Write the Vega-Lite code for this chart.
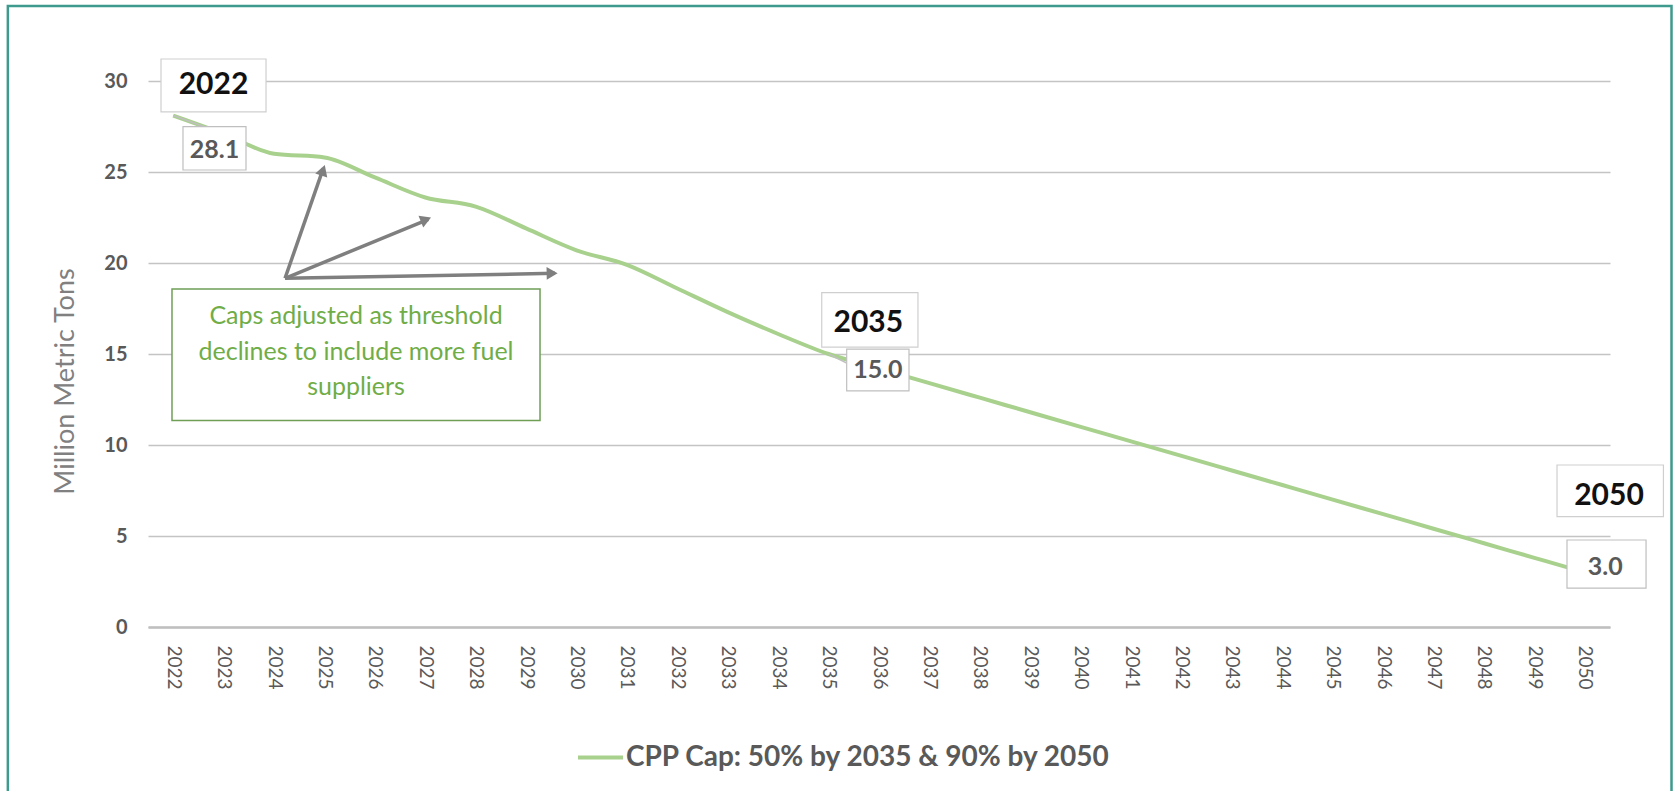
{
  "$schema": "https://vega.github.io/schema/vega-lite/v6.json",
  "width": 1462,
  "height": 546,
  "autosize": {"type": "none"},
  "padding": {"left": 148, "top": 81, "right": 70, "bottom": 164},
  "background": "white",
  "config": {"view": {"stroke": null}, "font": "Lato"},
  "encoding": {
    "x": {
      "field": "year", "type": "quantitative",
      "scale": {"domain": [2021.5, 2050.5], "nice": false, "zero": false},
      "axis": {
        "values": [2022,2023,2024,2025,2026,2027,2028,2029,2030,2031,2032,2033,2034,2035,2036,2037,2038,2039,2040,2041,2042,2043,2044,2045,2046,2047,2048,2049,2050],
        "format": "d", "labelAngle": 90, "title": null, "grid": false, "ticks": false,
        "domainColor": "#bfbfbf", "domainWidth": 2.5, "labelPadding": 18,
        "labelColor": "#595959", "labelFontSize": 19, "labelFont": "Lato"
      }
    },
    "y": {
      "field": "value", "type": "quantitative",
      "scale": {"domain": [0, 30], "nice": false},
      "axis": {
        "values": [0, 5, 10, 15, 20, 25, 30], "title": "Million Metric Tons",
        "grid": true, "gridColor": "#c4c4c4", "gridWidth": 1.5, "domain": false, "ticks": false,
        "labelPadding": 21, "labelColor": "#595959", "labelFontSize": 20, "labelFontWeight": "bold", "labelFont": "Lato",
        "titleColor": "#808080", "titleFontSize": 27, "titleFontWeight": "normal", "titleFont": "Lato", "titlePadding": 24,
        "titleY": 300
      }
    }
  },
  "datasets": {
    "cap": [
      {"year": 2022, "value": 28.1, "series": "CPP Cap: 50% by 2035 & 90% by 2050"},
      {"year": 2023, "value": 27.1, "series": "CPP Cap: 50% by 2035 & 90% by 2050"},
      {"year": 2024, "value": 26.0, "series": "CPP Cap: 50% by 2035 & 90% by 2050"},
      {"year": 2025, "value": 25.8, "series": "CPP Cap: 50% by 2035 & 90% by 2050"},
      {"year": 2026, "value": 24.7, "series": "CPP Cap: 50% by 2035 & 90% by 2050"},
      {"year": 2027, "value": 23.6, "series": "CPP Cap: 50% by 2035 & 90% by 2050"},
      {"year": 2028, "value": 23.1, "series": "CPP Cap: 50% by 2035 & 90% by 2050"},
      {"year": 2029, "value": 21.9, "series": "CPP Cap: 50% by 2035 & 90% by 2050"},
      {"year": 2030, "value": 20.7, "series": "CPP Cap: 50% by 2035 & 90% by 2050"},
      {"year": 2031, "value": 19.9, "series": "CPP Cap: 50% by 2035 & 90% by 2050"},
      {"year": 2032, "value": 18.6, "series": "CPP Cap: 50% by 2035 & 90% by 2050"},
      {"year": 2033, "value": 17.3, "series": "CPP Cap: 50% by 2035 & 90% by 2050"},
      {"year": 2034, "value": 16.1, "series": "CPP Cap: 50% by 2035 & 90% by 2050"},
      {"year": 2035, "value": 15.0, "series": "CPP Cap: 50% by 2035 & 90% by 2050"},
      {"year": 2036, "value": 14.2, "series": "CPP Cap: 50% by 2035 & 90% by 2050"},
      {"year": 2037, "value": 13.4, "series": "CPP Cap: 50% by 2035 & 90% by 2050"},
      {"year": 2038, "value": 12.6, "series": "CPP Cap: 50% by 2035 & 90% by 2050"},
      {"year": 2039, "value": 11.8, "series": "CPP Cap: 50% by 2035 & 90% by 2050"},
      {"year": 2040, "value": 11.0, "series": "CPP Cap: 50% by 2035 & 90% by 2050"},
      {"year": 2041, "value": 10.2, "series": "CPP Cap: 50% by 2035 & 90% by 2050"},
      {"year": 2042, "value": 9.4, "series": "CPP Cap: 50% by 2035 & 90% by 2050"},
      {"year": 2043, "value": 8.6, "series": "CPP Cap: 50% by 2035 & 90% by 2050"},
      {"year": 2044, "value": 7.8, "series": "CPP Cap: 50% by 2035 & 90% by 2050"},
      {"year": 2045, "value": 7.0, "series": "CPP Cap: 50% by 2035 & 90% by 2050"},
      {"year": 2046, "value": 6.2, "series": "CPP Cap: 50% by 2035 & 90% by 2050"},
      {"year": 2047, "value": 5.4, "series": "CPP Cap: 50% by 2035 & 90% by 2050"},
      {"year": 2048, "value": 4.6, "series": "CPP Cap: 50% by 2035 & 90% by 2050"},
      {"year": 2049, "value": 3.8, "series": "CPP Cap: 50% by 2035 & 90% by 2050"},
      {"year": 2050, "value": 3.0, "series": "CPP Cap: 50% by 2035 & 90% by 2050"}
    ],
    "arrows": [
      {"year": 2024.218, "value": 19.16, "year2": 2024.977, "value2": 25.2},
      {"year": 2024.218, "value": 19.16, "year2": 2027.06, "value2": 22.4},
      {"year": 2024.218, "value": 19.16, "year2": 2029.573, "value2": 19.43}
    ],
    "leaders": [
      {"year": 2022, "value": 28.1, "year2": 2022.63, "value2": 27.47},
      {"year": 2035, "value": 15.0, "year2": 2035.36, "value2": 14.5}
    ],
    "yearBoxes": [
      {"year": 2021.758, "year2": 2023.841, "value": 31.21, "value2": 28.3},
      {"year": 2034.864, "year2": 2036.773, "value": 18.37, "value2": 15.38},
      {"year": 2049.449, "year2": 2051.56, "value": 8.9, "value2": 6.06}
    ],
    "valueBoxes": [
      {"year": 2022.194, "year2": 2023.444, "value": 27.49, "value2": 25.11},
      {"year": 2035.359, "year2": 2036.595, "value": 15.27, "value2": 12.97},
      {"year": 2049.647, "year2": 2051.215, "value": 4.78, "value2": 2.14}
    ],
    "yearLabels": [
      {"year": 2022.799, "value": 29.78, "label": "2022"},
      {"year": 2035.788, "value": 16.72, "label": "2035"},
      {"year": 2050.48, "value": 7.2, "label": "2050"}
    ],
    "valueLabels": [
      {"year": 2022.819, "value": 26.21, "label": "28.1"},
      {"year": 2035.978, "value": 14.12, "label": "15.0"},
      {"year": 2050.405, "value": 3.3, "label": "3.0"}
    ],
    "note": [
      {"year": 2025.626, "value": 17.09, "label": "Caps adjusted as threshold"},
      {"year": 2025.626, "value": 15.13, "label": "declines to include more fuel"},
      {"year": 2025.626, "value": 13.2, "label": "suppliers"}
    ]
  },
  "layer": [
    {
      "data": {"values": [{"year": 2018.72, "year2": 2051.72, "value": 34.12, "value2": -9.5}]},
      "mark": {"type": "rect", "fill": "transparent", "stroke": "#3d9a8d", "strokeWidth": 2.5},
      "encoding": {"x2": {"field": "year2"}, "y2": {"field": "value2"}}
    },
    {
      "data": {"name": "cap"},
      "mark": {"type": "line", "strokeWidth": 4, "interpolate": "monotone"},
      "encoding": {
        "color": {
          "field": "series", "type": "nominal",
          "scale": {"range": ["#a9d18e"]},
          "legend": {
            "orient": "none", "legendX": 428, "legendY": 652, "title": null,
            "symbolType": "stroke", "symbolSize": 2025, "symbolStrokeWidth": 4,
            "labelFontSize": 28, "labelFontWeight": "bold", "labelColor": "#595959",
            "labelFont": "Lato", "labelOffset": 1, "labelLimit": 900
          }
        }
      }
    },
    {
      "data": {"name": "arrows"},
      "mark": {"type": "rule", "color": "#7f7f7f", "strokeWidth": 3.5},
      "encoding": {"x2": {"field": "year2"}, "y2": {"field": "value2"}}
    },
    {
      "data": {"values": [{"year": 2024.96, "value": 25.0}]},
      "mark": {"type": "point", "shape": "triangle", "filled": true, "color": "#7f7f7f", "opacity": 1, "size": 160, "angle": 19}
    },
    {
      "data": {"values": [{"year": 2026.98, "value": 22.35}]},
      "mark": {"type": "point", "shape": "triangle", "filled": true, "color": "#7f7f7f", "opacity": 1, "size": 160, "angle": 68}
    },
    {
      "data": {"values": [{"year": 2029.48, "value": 19.43}]},
      "mark": {"type": "point", "shape": "triangle", "filled": true, "color": "#7f7f7f", "opacity": 1, "size": 160, "angle": 89}
    },
    {
      "data": {"name": "leaders"},
      "mark": {"type": "rule", "color": "#bfbfbf", "strokeWidth": 1.5},
      "encoding": {"x2": {"field": "year2"}, "y2": {"field": "value2"}}
    },
    {
      "data": {"name": "yearBoxes"},
      "mark": {"type": "rect", "fill": "white", "stroke": "#cfcfcf", "strokeWidth": 1.2},
      "encoding": {"x2": {"field": "year2"}, "y2": {"field": "value2"}}
    },
    {
      "data": {"name": "valueBoxes"},
      "mark": {"type": "rect", "fill": "white", "stroke": "#bfbfbf", "strokeWidth": 1.2},
      "encoding": {"x2": {"field": "year2"}, "y2": {"field": "value2"}}
    },
    {
      "data": {"values": [{"year": 2021.976, "year2": 2029.276, "value": 18.57, "value2": 11.34}]},
      "mark": {"type": "rect", "fill": "white", "stroke": "#6f9f55", "strokeWidth": 1.5},
      "encoding": {"x2": {"field": "year2"}, "y2": {"field": "value2"}}
    },
    {
      "data": {"name": "yearLabels"},
      "mark": {"type": "text", "font": "Lato", "fontSize": 30, "fontWeight": "bold", "color": "#111111", "align": "center", "baseline": "middle"},
      "encoding": {"text": {"field": "label"}}
    },
    {
      "data": {"name": "valueLabels"},
      "mark": {"type": "text", "font": "Lato", "fontSize": 25, "fontWeight": "bold", "color": "#595959", "align": "center", "baseline": "middle"},
      "encoding": {"text": {"field": "label"}}
    },
    {
      "data": {"name": "note"},
      "mark": {"type": "text", "font": "Lato", "fontSize": 25, "color": "#70ad47", "align": "center", "baseline": "middle"},
      "encoding": {"text": {"field": "label"}}
    }
  ]
}
